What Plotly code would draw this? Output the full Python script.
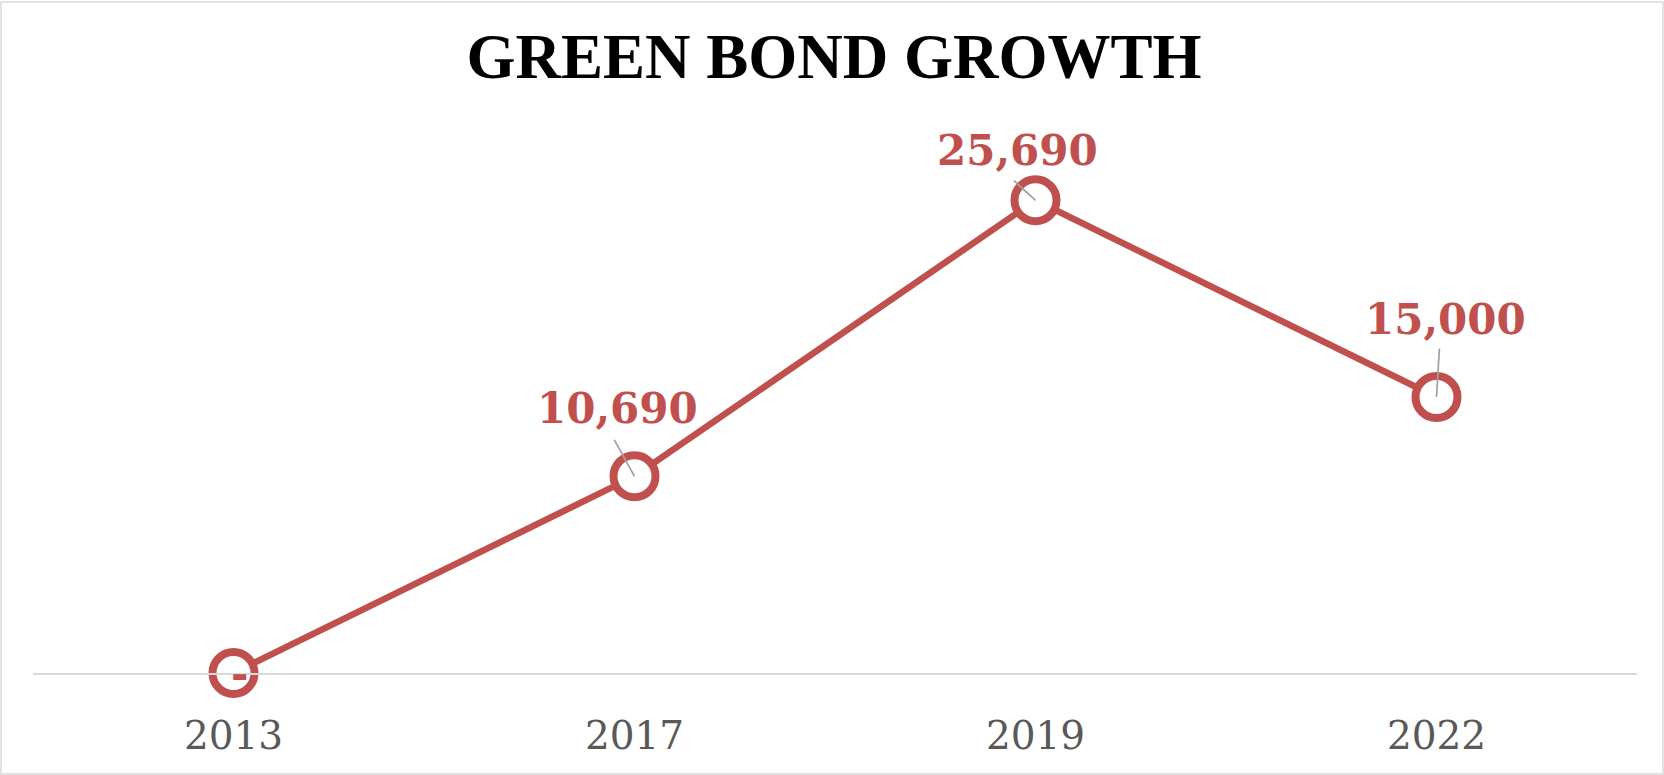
import plotly.graph_objects as go

years = ["2013", "2017", "2019", "2022"]
values = [0, 10690, 25690, 15000]
# label offsets (pixels) relative to each point: text centre and leader-line tail
label_dx = [5.5, -17.5, -18, 9]
label_dy = [-1, 67.5, 50, 77.5]
leader_ax = [None, -21, -23, 3]
leader_ay = [None, -38, -21, -50]

RED = "#C0504D"
GRAY_TXT = "#595959"

fig = go.Figure()
fig.add_trace(go.Scatter(
    x=years, y=values, mode="lines+markers",
    line=dict(color=RED, width=6.5),
    marker=dict(symbol="circle", size=42, color="white",
                line=dict(color=RED, width=8)),
    cliponaxis=False, hoverinfo="skip", showlegend=False,
))

annotations = []
for i, (v, dx, dy, ax, ay) in enumerate(zip(values, label_dx, label_dy, leader_ax, leader_ay)):
    if ax is not None:
        annotations.append(dict(
            x=i, y=v, xref="x", yref="y", text="", showarrow=True,
            arrowhead=0, arrowwidth=1.7, arrowcolor="#A0A0A0",
            ax=ax, ay=ay, axref="pixel", ayref="pixel",
        ))
    txt = "-" if v == 0 else f"{v:,}"
    annotations.append(dict(
        x=i, y=v, xref="x", yref="y", text=f"<b>{txt}</b>", showarrow=False,
        xshift=dx, yshift=dy, xanchor="center", yanchor="middle",
        font=dict(family="DejaVu Serif", size=42, color=RED),
    ))

# figure border (light gray frame)
pw, ph = 1604, 552
fig.add_shape(type="rect", xref="paper", yref="paper",
              x0=(1 - 33) / pw, x1=(1663 - 33) / pw,
              y0=(673 - 774) / ph, y1=(673 - 2) / ph,
              line=dict(color="#D9D9D9", width=1.5), fillcolor="rgba(0,0,0,0)",
              layer="below")

fig.update_layout(
    width=1664, height=775,
    margin=dict(l=33, r=27, t=121, b=102),
    paper_bgcolor="white", plot_bgcolor="white",
    title=dict(text="<b>GREEN BOND GROWTH</b>", x=834 / 1664, xref="container",
               xanchor="center", y=1 - 56 / 775, yref="container", yanchor="middle",
               font=dict(family="Liberation Serif", size=63, color="black")),
    xaxis=dict(type="category", range=[-0.5, 3.5], showgrid=False, zeroline=False,
               showline=True, linecolor="#D9D9D9", linewidth=2, ticks="",
               tickfont=dict(family="DejaVu Serif", size=39, color=GRAY_TXT),
               ticklabelstandoff=27, automargin=False, fixedrange=True),
    yaxis=dict(range=[0, 30000], showgrid=False, zeroline=False, showline=False,
               showticklabels=False, ticks="", automargin=False, fixedrange=True),
    annotations=annotations,
)

fig.write_html("out.html")
